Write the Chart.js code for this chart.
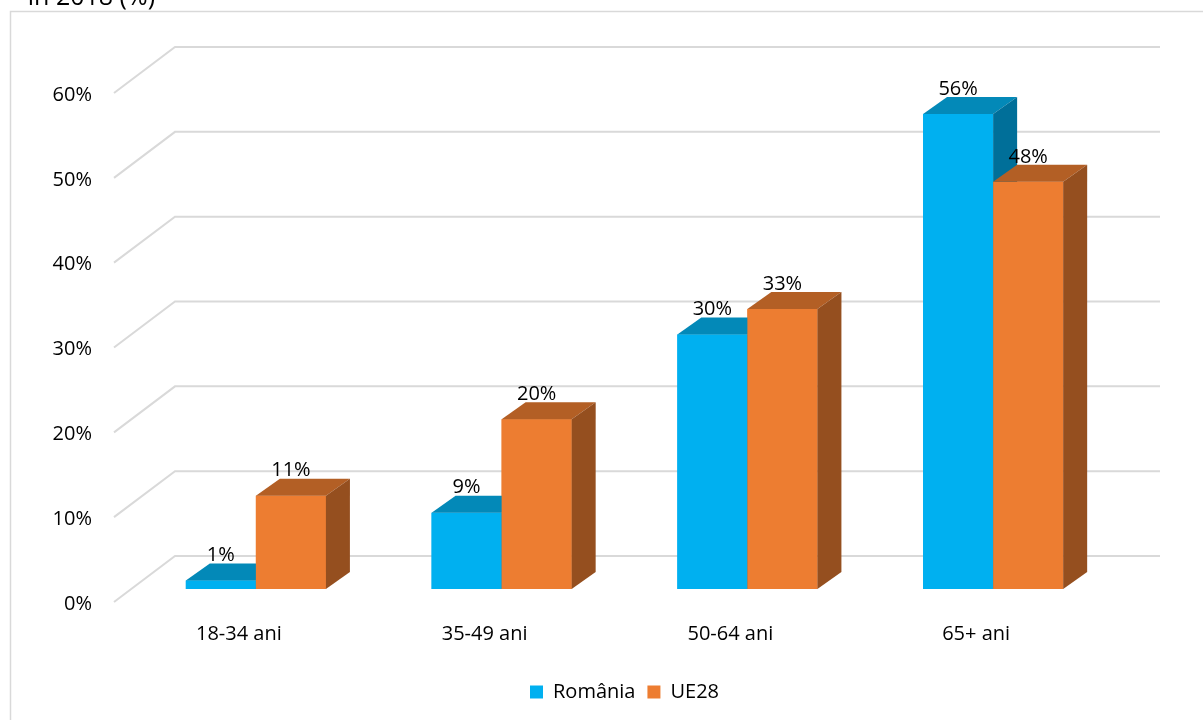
<!DOCTYPE html>
<html>
<head>
<meta charset="utf-8">
<script src="https://cdn.jsdelivr.net/npm/chart.js@4.4.1/dist/chart.umd.min.js"></script>
<style>
  html, body { margin: 0; padding: 0; background: #fff; }
  canvas { display: block; }
</style>
</head>
<body>
<canvas id="grafic" width="1203" height="720"></canvas>
<script>
// date: ponderea pe grupe de varsta, Romania vs UE28
const categorii = ['18-34 ani', '35-49 ani', '50-64 ani', '65+ ani'];
const romania = [1, 9, 30, 56];
const ue28 = [11, 20, 33, 48];
const valoriAxa = [0, 10, 20, 30, 40, 50, 60];

// culori: fata, capac, lateral
const culoriRo = ['#00B0F0', '#0389B8', '#006F99'];
const culoriUe = ['#ED7D31', '#B35F25', '#954F1F'];

const FONT = '"Open Sans", "Noto Sans", sans-serif';
const ADANC = { dx: 24, dy: 17 };   // adancimea barelor 3D

// peretele din spate si podeaua (liniile de grila in perspectiva)
const grila3d = {
  id: 'grila3d',
  beforeDatasetsDraw(chart) {
    const { ctx, chartArea: a, scales: { y } } = chart;
    ctx.save();
    ctx.strokeStyle = '#D9D9D9';
    ctx.lineWidth = 2;
    valoriAxa.forEach(v => {
      const py = y.getPixelForValue(v);
      ctx.beginPath();
      ctx.moveTo(a.left - 19, py + 13);
      ctx.lineTo(a.left + 42, py - 33);
      ctx.lineTo(a.right + 44, py - 33);
      ctx.stroke();
    });
    ctx.restore();
  }
};

function fata(ctx, pts, culoare) {
  ctx.fillStyle = culoare;
  ctx.beginPath();
  ctx.moveTo(pts[0][0], pts[0][1]);
  for (let k = 1; k < pts.length; k++) ctx.lineTo(pts[k][0], pts[k][1]);
  ctx.closePath();
  ctx.fill();
}

// bare cu capac si lateral, desenate pe categorii ca sa se suprapuna corect
const bare3d = {
  id: 'bare3d',
  afterDatasetsDraw(chart) {
    const { ctx } = chart;
    const { dx, dy } = ADANC;
    ctx.save();
    categorii.forEach((_, i) => {
      chart.data.datasets.forEach((ds, d) => {
        const el = chart.getDatasetMeta(d).data[i];
        const { x, y, base, width } = el.getProps(['x', 'y', 'base', 'width'], true);
        const l = x - width / 2, r = x + width / 2;
        const c = ds.culori3d;
        fata(ctx, [[l, y], [r, y], [r, base], [l, base]], c[0]);
        fata(ctx, [[l, y], [l + dx, y - dy], [r + dx, y - dy], [r, y]], c[1]);
        fata(ctx, [[r, y], [r + dx, y - dy], [r + dx, base - dy], [r, base]], c[2]);
      });
    });
    // etichete cu valori
    ctx.fillStyle = '#000';
    ctx.font = '20px ' + FONT;
    ctx.textAlign = 'center';
    ctx.textBaseline = 'middle';
    chart.data.datasets.forEach((ds, d) => {
      chart.getDatasetMeta(d).data.forEach((el, i) => {
        const { x, y } = el.getProps(['x', 'y'], true);
        ctx.fillText(ds.data[i] + '%', x, y - 25);
      });
    });
    ctx.restore();
  }
};

// rama si titlul taiat de sus
const rama = {
  id: 'rama',
  afterDraw(chart) {
    const { ctx } = chart;
    ctx.save();
    ctx.strokeStyle = '#D9D9D9';
    ctx.lineWidth = 1.5;
    ctx.beginPath();
    ctx.moveTo(10.5, 720);
    ctx.lineTo(10.5, 11.5);
    ctx.lineTo(1203, 11.5);
    ctx.stroke();
    ctx.fillStyle = '#000';
    ctx.font = '25px ' + FONT;
    ctx.textAlign = 'right';
    ctx.textBaseline = 'alphabetic';
    ctx.fillText('în 2018 (%)', 155, 5);
    ctx.restore();
  }
};

new Chart(document.getElementById('grafic'), {
  type: 'bar',
  data: {
    labels: categorii,
    datasets: [
      { label: 'România', data: romania, backgroundColor: culoriRo[0], culori3d: culoriRo, borderWidth: 0 },
      { label: 'UE28', data: ue28, backgroundColor: culoriUe[0], culori3d: culoriUe, borderWidth: 0 }
    ]
  },
  options: {
    responsive: false,
    animation: false,
    layout: { padding: { top: 80, right: 87, left: 0, bottom: 8 } },
    datasets: { bar: { categoryPercentage: 0.57, barPercentage: 1 } },
    plugins: {
      legend: {
        position: 'bottom',
        fullSize: false,
        labels: {
          boxWidth: 13, boxHeight: 13, padding: 12,
          color: '#000',
          font: { family: FONT, size: 20 }
        }
      },
      tooltip: { enabled: false }
    },
    scales: {
      x: {
        grid: { display: false, drawTicks: false },
        border: { display: false },
        ticks: { color: '#000', padding: 33, labelOffset: -17, font: { family: FONT, size: 20 } },
        afterFit(s) { s.height = 81; }
      },
      y: {
        min: 0, max: 60,
        grid: { display: false, drawTicks: false },
        border: { display: false },
        afterBuildTicks(s) { s.ticks = valoriAxa.map(v => ({ value: v })); },
        ticks: {
          color: '#000', padding: 41, labelOffset: 15,
          font: { family: FONT, size: 20 },
          callback: v => v + '%'
        },
        afterFit(s) { s.width = 133; }
      }
    }
  },
  plugins: [grila3d, bare3d, rama]
});
</script>
</body>
</html>
